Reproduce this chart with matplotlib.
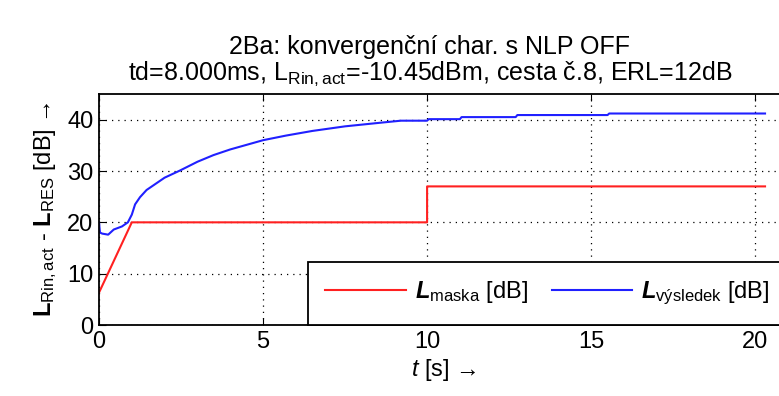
import matplotlib
matplotlib.use("Agg")
import matplotlib.pyplot as plt

# data
t_maska = [0.0, 1.0, 10.0, 10.0, 20.3]
maska = [6.3, 20.0, 20.0, 27.0, 27.0]

t_vysl = [0.0, 0.03, 0.1, 0.28, 0.45, 0.7, 0.88, 1.0, 1.1, 1.25, 1.45, 2.0, 2.47,
          3.0, 3.49, 4.0, 4.5, 5.0, 5.7, 6.5, 7.5, 8.57, 9.2, 10.0, 10.05,
          11.0, 11.05, 12.7, 12.75, 15.5, 15.55, 20.3]
vysl = [20.0, 18.0, 17.8, 17.6, 18.6, 19.2, 20.0, 21.5, 23.5, 24.9, 26.3, 28.7, 30.1,
        31.8, 33.1, 34.2, 35.1, 36.0, 36.9, 37.8, 38.7, 39.4, 39.8, 39.8, 40.1,
        40.1, 40.5, 40.5, 40.9, 40.9, 41.2, 41.2]

xticks = [0, 5, 10, 15, 20]
yticks = [0, 10, 20, 30, 40]

plt.rcParams['font.family'] = ['Liberation Sans', 'DejaVu Sans']
plt.rcParams['mathtext.fontset'] = 'custom'
plt.rcParams['mathtext.rm'] = 'Liberation Sans'
plt.rcParams['mathtext.it'] = 'Liberation Sans:italic'
plt.rcParams['mathtext.bf'] = 'Liberation Sans:bold'
plt.rcParams['mathtext.bfit'] = 'Liberation Sans:bold:italic'

fig = plt.figure(figsize=(7.79, 3.96), dpi=100)
ax = fig.add_axes([99/779, 1-325/396, 689/779, 231/396])

ax.plot(t_maska, maska, color='#ff2020', lw=1.5, label=r'$\mathbfit{L}_{\mathregular{maska}}$ [dB]')
ax.plot(t_vysl, vysl, color='#2020ff', lw=1.5, label=r'$\mathbfit{L}_{\mathregular{výsledek}}$ [dB]')

ax.set_xlim(0, 21)
ax.set_ylim(0, 45)
ax.set_xticks(xticks)
ax.set_yticks(yticks)
ax.tick_params(direction='in', top=True, right=True, labelsize=17, length=5, pad=4)
ax.grid(True, color='black', linestyle=(0, (1, 4)), lw=0.9)
for s in ax.spines.values():
    s.set_linewidth(1.3)

ax.set_xlabel(r'$t$ [s] →', fontsize=17, labelpad=3)
ax.set_ylabel(r'$\mathbf{L}_{\mathregular{Rin,act}}$ - $\mathbf{L}_{\mathregular{RES}}$ [dB] →', fontsize=17, labelpad=6)
ax.set_title('2Ba: konvergenční char. s NLP OFF\n'
             r'td=8.000ms, L$_{\mathregular{Rin,act}}$=-10.45dBm, cesta č.8, ERL=12dB',
             fontsize=18, pad=10, linespacing=1.05, x=0.48)

leg = ax.legend(loc='lower left', bbox_to_anchor=(0.303, 0.0), ncol=2, fontsize=17,
                frameon=True, fancybox=False, framealpha=1, edgecolor='black',
                borderaxespad=0, handlelength=3.4, handletextpad=0.4,
                columnspacing=1.0, borderpad=0.75)
leg.get_frame().set_linewidth(1.3)

fig.savefig('out.png', dpi=100)
